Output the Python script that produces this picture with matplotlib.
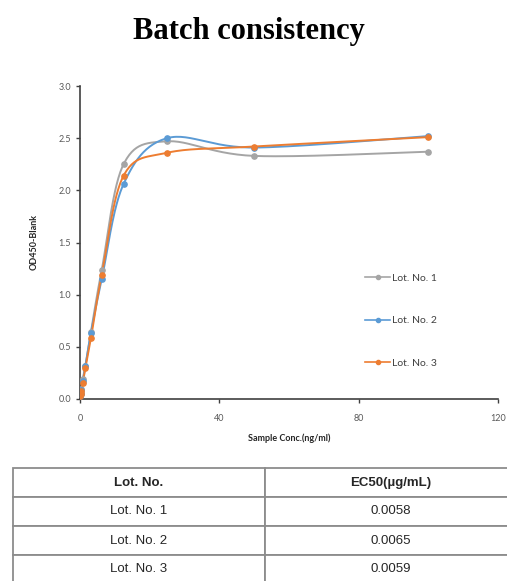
import numpy as np
import matplotlib
matplotlib.use("Agg")
import matplotlib.pyplot as plt

conc = [100, 50, 25, 12.5, 6.25, 3.125, 1.5625, 0.78125, 0.390625, 0.1953125, 0.09765625]
lot1 = [2.37, 2.33, 2.47, 2.25, 1.24, 0.64, 0.32, 0.19, 0.10, 0.06, 0.04]
lot2 = [2.52, 2.41, 2.50, 2.06, 1.15, 0.63, 0.32, 0.17, 0.09, 0.05, 0.03]
lot3 = [2.51, 2.42, 2.36, 2.14, 1.19, 0.58, 0.30, 0.15, 0.08, 0.05, 0.03]
series_names = ["Lot. No. 1", "Lot. No. 2", "Lot. No. 3"]
colors = ["#A5A5A5", "#5B9BD5", "#ED7D31"]

table_header = ["Lot. No.", "EC50(\u00b5g/mL)"]
table_lots = ["Lot. No. 1", "Lot. No. 2", "Lot. No. 3"]
table_ec50 = ["0.0058", "0.0065", "0.0059"]

xticks = [0, 40, 80, 120]
yticks = [0.0, 0.5, 1.0, 1.5, 2.0, 2.5, 3.0]


def smooth(x, y, n=30):
    """Excel-like smoothed line: Catmull-Rom Bezier segments."""
    x = np.asarray(x, float)
    y = np.asarray(y, float)
    order = np.argsort(x)
    x, y = x[order], y[order]
    P = np.column_stack([x, y])
    out = []
    m = len(P)
    t = np.linspace(0, 1, n)[:, None]
    for i in range(m - 1):
        p0 = P[i - 1] if i > 0 else P[i]
        p1 = P[i]
        p2 = P[i + 1]
        p3 = P[i + 2] if i + 2 < m else P[i + 1]
        c1 = p1 + (p2 - p0) / 6.0
        c2 = p2 - (p3 - p1) / 6.0
        seg = ((1 - t) ** 3) * p1 + 3 * ((1 - t) ** 2) * t * c1 + 3 * (1 - t) * t ** 2 * c2 + t ** 3 * p2
        out.append(seg if i == 0 else seg[1:])
    pts = np.vstack(out)
    return pts[:, 0], pts[:, 1]


W, H = 507, 581
fig = plt.figure(figsize=(W / 100, H / 100), dpi=100)

fig.text(249 / W, 1 - 31 / H, "Batch consistency", ha="center", va="center",
         fontsize=22, fontweight="bold", family="Liberation Serif")

ax = fig.add_axes([80 / W, 1 - 399 / H, (498 - 80) / W, (399 - 86) / H])
for name, ys, c in zip(series_names, [lot1, lot2, lot3], colors):
    sx, sy = smooth(conc, ys)
    ax.plot(sx, sy, color=c, lw=1.4, zorder=2)
    ax.plot(conc, ys, "o", color=c, ms=3.8, zorder=3)
    ax.plot([], [], color=c, lw=1.2, marker="o", ms=3, label=name)

ax.set_xlim(0, 120)
ax.set_ylim(0, 3.0)
ax.set_xticks(xticks)
ax.set_yticks(yticks)
ax.set_yticklabels([f"{v:.1f}" for v in yticks])
for s in ["top", "right"]:
    ax.spines[s].set_visible(False)
for s in ["left", "bottom"]:
    ax.spines[s].set_color("#404040")
    ax.spines[s].set_linewidth(1.2)
ax.tick_params(axis="both", labelsize=6.5, labelcolor="#595959", color="#404040",
               length=3, width=1)
ax.tick_params(axis="x", pad=8)
for lab in ax.get_xticklabels() + ax.get_yticklabels():
    lab.set_family("Lato")
ax.set_xlabel("Sample Conc.(ng/ml)", fontsize=6.5, fontweight="bold", family="Lato",
              color="#262626", labelpad=7)
ax.set_ylabel("OD450-Blank", fontsize=6.5, fontweight="bold", family="Lato",
              color="#262626", labelpad=14)
leg = ax.legend(loc="center left", bbox_to_anchor=(0.66, 0.25), frameon=False,
                labelspacing=3.2, handlelength=2.4, handletextpad=0.2,
                prop={"family": "Lato", "size": 7.5})
for t in leg.get_texts():
    t.set_color("#404040")

# table
tx0, tx1, ty0, ty1 = 13, 517, 468, 584
tab_ax = fig.add_axes([tx0 / W, 1 - ty1 / H, (tx1 - tx0) / W, (ty1 - ty0) / H])
tab_ax.set_axis_off()
rows = [table_header] + [[a, b] for a, b in zip(table_lots, table_ec50)]
tbl = tab_ax.table(cellText=rows, cellLoc="center", bbox=[0, 0, 1, 1])
tbl.auto_set_font_size(False)
for (r, c), cell in tbl.get_celld().items():
    cell.set_edgecolor("#8c8c8c")
    cell.set_linewidth(1.3)
    cell.get_text().set_fontsize(9.5)
    cell.get_text().set_family("Liberation Sans")
    cell.get_text().set_color("#262626")
    if r == 0:
        cell.get_text().set_fontweight("bold")

fig.savefig("out.png", dpi=100)
